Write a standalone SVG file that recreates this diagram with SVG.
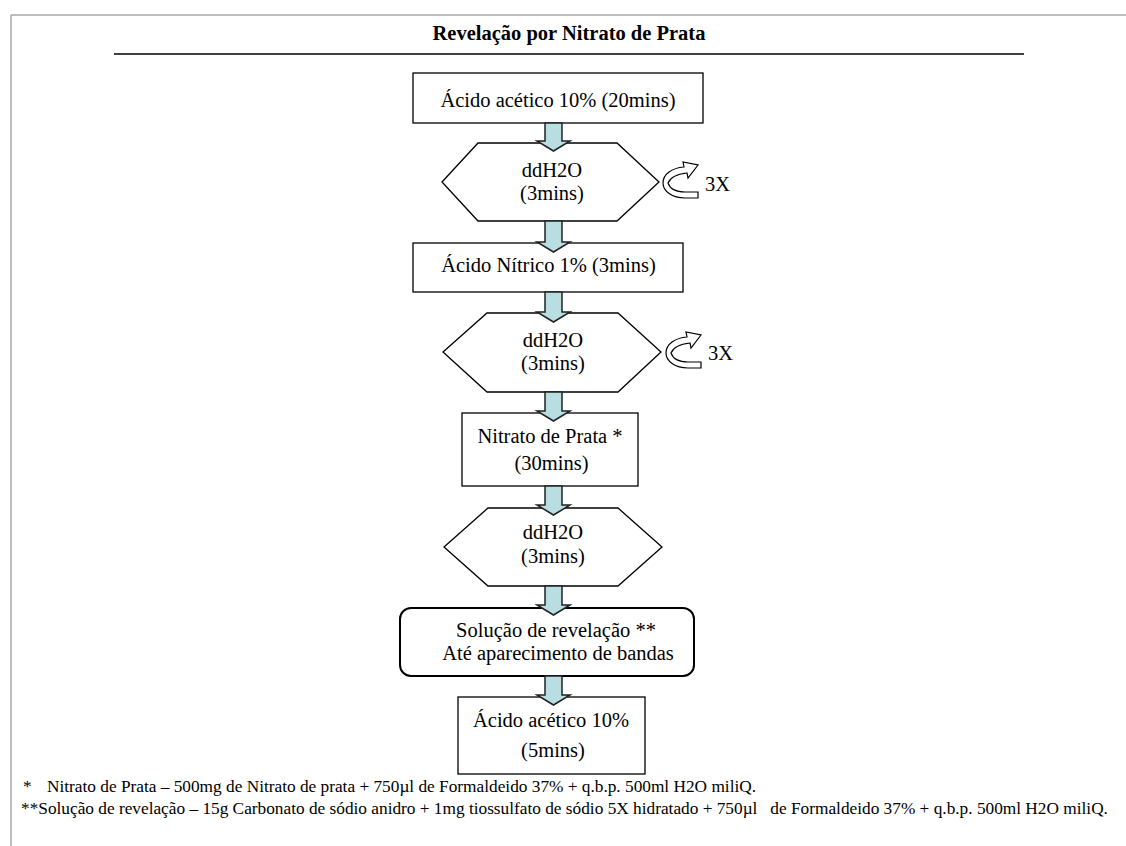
<svg xmlns="http://www.w3.org/2000/svg" width="1126" height="846" viewBox="0 0 1126 846">
<style>
  text { font-family: "Liberation Serif", "Times New Roman", serif; fill: #000; }
  .t { font-size: 20.5px; text-anchor: middle; }
  .title { font-size: 20.5px; font-weight: bold; text-anchor: middle; }
  .fn { font-size: 17.3px; }
  .box { fill: #fff; stroke: #000; stroke-width: 1.3; }
  .rbox { fill: #fff; stroke: #000; stroke-width: 2; }
  .arrow { fill: #b9dee2; stroke: #222; stroke-width: 1.5; stroke-linejoin: miter; }
  .icon { fill: #fff; stroke: #000; stroke-width: 1.2; stroke-linejoin: miter; }
</style>
<defs>
  <path id="loop" d="M 35,36 L 22,36 C 9,36 0,29 0,21 C 0,12 9,6 21,5 L 20,0 L 35,3 L 25,16 L 24,11 C 14,12 7,16 5,21 C 7,27 14,30 22,30 L 35,30 Z"/>
</defs>
<rect width="1126" height="846" fill="#fff"/>
<g id="frame">
  <line x1="11" y1="15" x2="1126" y2="15" stroke="#a8a8a8" stroke-width="1.5"/>
  <line x1="11" y1="15" x2="11" y2="846" stroke="#a8a8a8" stroke-width="1.5"/>
  <line x1="114" y1="54" x2="1024" y2="54" stroke="#000" stroke-width="1.5"/>
  <text class="title" x="569" y="40">Revelação por Nitrato de Prata</text>
</g>
<g id="n1">
  <rect class="box" x="413" y="73" width="290" height="50"/>
  <text class="t" x="558" y="107">Ácido acético 10% (20mins)</text>
</g>
<g id="n2">
  <polygon class="box" points="442,182 478,143 617,143 659,182 617,221 478,221"/>
  <text class="t" x="552" y="177">ddH2O</text>
  <text class="t" x="552" y="200">(3mins)</text>
  <use href="#loop" class="icon" transform="translate(663,162)"/>
  <text x="705" y="191" style="font-size:20.5px">3X</text>
</g>
<g id="n3">
  <rect class="box" x="413" y="243" width="270" height="49"/>
  <text class="t" x="548.5" y="272">Ácido Nítrico 1% (3mins)</text>
</g>
<g id="n4">
  <polygon class="box" points="443,352 487,313 618,313 661,352 618,392 487,392"/>
  <text class="t" x="553" y="347">ddH2O</text>
  <text class="t" x="553" y="370">(3mins)</text>
  <use href="#loop" class="icon" transform="translate(666,332)"/>
  <text x="708" y="360" style="font-size:20.5px">3X</text>
</g>
<g id="n5">
  <rect class="box" x="462" y="413" width="176" height="73"/>
  <text class="t" x="550" y="443">Nitrato de Prata *</text>
  <text class="t" x="551.5" y="470">(30mins)</text>
</g>
<g id="n6">
  <polygon class="box" points="444,547 488,508 618,508 662,547 618,586 488,586"/>
  <text class="t" x="553" y="539">ddH2O</text>
  <text class="t" x="553" y="563">(3mins)</text>
</g>
<g id="n7">
  <rect class="rbox" x="400" y="608" width="294" height="68" rx="11"/>
  <text class="t" x="556" y="637">Solução de revelação **</text>
  <text class="t" x="558" y="660">Até aparecimento de bandas</text>
</g>
<g id="n8">
  <rect class="box" x="458" y="697" width="187" height="77"/>
  <text class="t" x="551" y="727">Ácido acético 10%</text>
  <text class="t" x="553" y="757">(5mins)</text>
</g>
<g id="connectors">
  <polygon class="arrow" points="545,123 562,123 562,141 570,141 553.5,151 537,141 545,141"/>
  <polygon class="arrow" points="545,221 562,221 562,242 570,242 553.5,252 537,242 545,242"/>
  <polygon class="arrow" points="545,292 562,292 562,312 570,312 553.5,322 537,312 545,312"/>
  <polygon class="arrow" points="545,392 562,392 562,411 570,411 553.5,421 537,411 545,411"/>
  <polygon class="arrow" points="545,486 562,486 562,505 570,505 553.5,515 537,505 545,505"/>
  <polygon class="arrow" points="545,586 562,586 562,605 570,605 553.5,615 537,605 545,605"/>
  <polygon class="arrow" points="545,676 562,676 562,695 570,695 553.5,705 537,695 545,695"/>
</g>
<g id="notes">
  <text class="fn" y="792"><tspan x="23">*</tspan><tspan x="47">Nitrato de Prata – 500mg de Nitrato de prata + 750µl de Formaldeido 37% + q.b.p. 500ml H2O miliQ.</tspan></text>
  <text class="fn" x="21" y="814" xml:space="preserve">**Solução de revelação – 15g Carbonato de sódio anidro + 1mg tiossulfato de sódio 5X hidratado + 750µl   de Formaldeido 37% + q.b.p. 500ml H2O miliQ.</text>
</g>
</svg>
